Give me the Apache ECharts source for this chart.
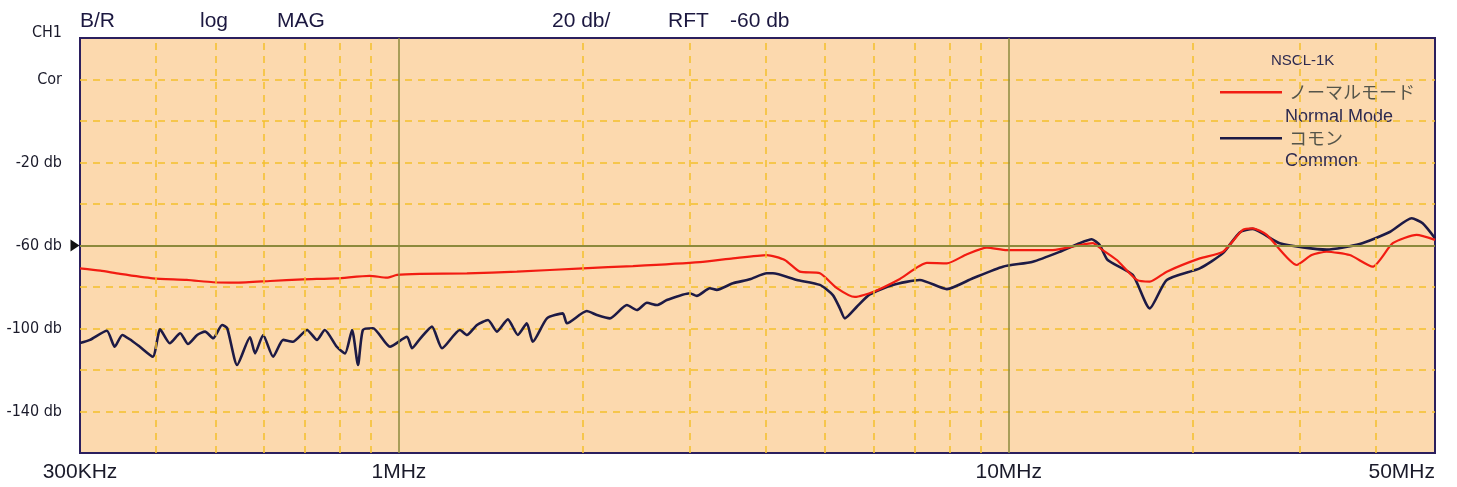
<!DOCTYPE html>
<html>
<head>
<meta charset="utf-8">
<script src="https://cdn.jsdelivr.net/npm/echarts@6/dist/echarts.min.js"></script>
<style>
html,body{margin:0;padding:0;background:#fff;}
#chart{width:1457px;height:487px;}
</style>
</head>
<body>
<div id="chart"></div>
<script>
// ---- data (frequency in MHz, level in dB) ----
const normalFreqMHz = [0.300,0.324,0.349,0.395,0.449,0.496,0.543,0.615,0.696,0.791,0.896,0.956,0.993,1.083,1.293,1.561,2.003,2.420,3.115,3.530,4.011,4.293,4.544,4.902,5.227,5.594,5.986,6.630,7.342,7.918,8.539,9.208,9.930,11.81,13.07,13.73,14.26,15.04,16.22,17.03,18.16,20.57,22.43,24.20,25.12,26.49,29.66,31.38,33.21,36.24,39.52,42.63,46.65,50.0];
const normalDb = [-71.0,-72.1,-73.7,-75.8,-76.6,-77.7,-77.9,-77.1,-76.3,-75.8,-74.6,-75.5,-74.2,-73.7,-73.4,-72.6,-71.0,-69.9,-68.0,-66.2,-64.6,-67.0,-72.6,-73.4,-80.5,-84.8,-82.4,-76.1,-68.4,-68.6,-64.2,-61.0,-62.2,-62.2,-59.8,-58.9,-62.2,-67.0,-76.6,-77.4,-72.6,-66.2,-63.1,-52.5,-51.7,-54.9,-69.4,-64.6,-63.0,-64.6,-70.2,-58.9,-54.9,-57.3];

const commonFreqMHz = [0.300,0.3115,0.332,0.342,0.352,0.362,0.376,0.395,0.406,0.421,0.438,0.451,0.467,0.481,0.496,0.513,0.523,0.543,0.570,0.581,0.599,0.622,0.646,0.670,0.707,0.734,0.756,0.791,0.816,0.838,0.857,0.873,0.907,0.967,1.031,1.051,1.083,1.133,1.177,1.259,1.293,1.343,1.400,1.448,1.509,1.567,1.621,1.658,1.749,1.857,1.886,2.033,2.112,2.218,2.365,2.456,2.551,2.649,2.751,3.000,3.080,3.235,3.321,3.530,3.763,4.011,4.104,4.493,4.902,5.148,5.286,5.386,5.635,5.919,6.457,7.150,7.918,8.734,9.781,10.95,12.13,13.07,13.68,14.10,14.53,15.97,17.03,18.16,20.57,22.43,23.92,25.12,27.82,33.21,37.62,42.14,45.79,47.72,50.0];
const commonDb = [-107.0,-105.5,-101.1,-108.8,-103.1,-105.2,-108.8,-113.6,-100.4,-107.1,-102.3,-107.5,-103.1,-101.5,-104.7,-98.3,-99.9,-117.6,-104.2,-112.0,-103.1,-113.6,-105.5,-106.4,-100.7,-105.5,-100.7,-108.8,-112.0,-100.7,-117.6,-100.7,-99.9,-108.8,-104.0,-109.5,-105.0,-99.1,-109.5,-100.7,-103.1,-98.3,-95.9,-101.5,-95.6,-103.1,-97.5,-106.4,-95.1,-92.7,-97.5,-91.6,-93.5,-95.1,-88.7,-91.1,-87.6,-88.7,-86.3,-83.0,-84.3,-80.6,-81.4,-78.2,-76.3,-73.4,-73.4,-76.6,-79.0,-83.9,-90.3,-95.1,-89.5,-83.6,-79.0,-76.6,-81.0,-75.8,-70.2,-67.8,-63.0,-58.9,-57.0,-59.8,-67.0,-74.2,-90.3,-76.6,-71.0,-63.8,-53.7,-52.0,-58.9,-62.0,-59.3,-53.5,-46.9,-49.3,-56.5];

const seriesNames = ['ノーマルモード', 'コモン'];
const seriesSubNames = ['Normal Mode', 'Common'];
const legendTitle = 'NSCL-1K';

const xTickValues = [0.3, 1, 10, 50];
const xTickLabels = ['300KHz', '1MHz', '10MHz', '50MHz'];
const yTickValues = [40, 20, -20, -60, -100, -140];
const yTickLabels = ['CH1', 'Cor', '-20 db', '-60 db', '-100 db', '-140 db'];
const headerTexts = ['B/R', 'log', 'MAG', '20 db/', 'RFT', '-60 db'];
const refLevelDb = -60;
const majorFreqs = [1, 10];
const minorFreqs = [0.4,0.5,0.6,0.7,0.8,0.9,2,3,4,5,6,7,8,9,20,30,40];

// ---- build ----
function pairs(xs, ys){ return xs.map((x,i)=>[x, ys[i]]); }

const GOLD = '#f3c02c';
const OLIVE = '#8c8a3c';
const NAVY = '#1d1a45';
const RED = '#f21c12';
const narrow = "'Liberation Sans Narrow','DejaVu Sans Condensed','Liberation Sans',Arial,sans-serif";
const sans = "'Liberation Sans',Arial,sans-serif";
const lineIcon = 'path://M0,0 L0,0 M0,8 L62,8 L62,10.5 L0,10.5 Z M62,18 L62,18';

const headerX = [80, 200, 277, 552, 668, 730];
const graphics = headerTexts.map((t,i)=>({
  type:'text', left: headerX[i], top: 11,
  style:{ text:t, fill:'#1c1840', font:'21px ' + sans }
}));
graphics.push({ type:'text', left:1271, top:53, style:{ text:legendTitle, fill:'#2d2a50', font:'15px ' + sans }});
graphics.push({ type:'text', left:1285, top:108, style:{ text:seriesSubNames[0], fill:'#2d2a50', font:'18px ' + sans }});
graphics.push({ type:'text', left:1285, top:152, style:{ text:seriesSubNames[1], fill:'#2d2a50', font:'18px ' + sans }});

const chart = echarts.init(document.getElementById('chart'), null, {renderer:'canvas'});
chart.setOption({
  animation:false,
  backgroundColor:'#ffffff',
  grid:{ left:80, right:22, top:38, bottom:34, show:true, backgroundColor:'#fcd9ae',
         borderColor:'#2b1f5e', borderWidth:2, containLabel:false, outerBoundsMode:'none' },
  xAxis:{
    type:'log', logBase:10, min:0.3, max:50,
    axisLine:{show:false}, axisTick:{show:false},
    splitLine:{show:false},
    axisLabel:{
      fontSize:21, color:'#1a1a2a', fontFamily:sans, margin:9,
      showMinLabel:true, showMaxLabel:true, alignMaxLabel:'right',
      formatter:function(v){
        let best=0, bd=1e9;
        xTickValues.forEach((t,i)=>{ const d=Math.abs(Math.log10(v/t)); if(d<bd){bd=d;best=i;} });
        return bd<0.01 ? xTickLabels[best] : '';
      }
    }
  },
  yAxis:{
    type:'value', min:-160, max:40, interval:20,
    axisLine:{show:false}, axisTick:{show:false},
    splitLine:{show:true, showMinLine:false, showMaxLine:false, lineStyle:{color:GOLD, width:1.5, type:[7,6]}},
    axisLabel:{
      fontSize:16, color:'#1a1a2a', fontFamily:narrow, margin:18,
      formatter:function(v){
        const i = yTickValues.indexOf(Math.round(v));
        if(i<0) return '';
        if(i===0) return '{top|' + yTickLabels[i] + '}';
        return yTickLabels[i];
      },
      rich:{ top:{ fontSize:16, fontFamily:narrow, color:'#1a1a2a', padding:[0,0,10,0] } }
    }
  },
  legend:{
    data:[
      {name:seriesNames[0], icon:lineIcon, itemStyle:{color:RED}},
      {name:seriesNames[1], icon:lineIcon, itemStyle:{color:NAVY}}
    ],
    orient:'vertical', left:1215, top:78,
    itemWidth:62, itemHeight:18, itemGap:28,
    textStyle:{ fontSize:18, color:'#55554a', fontFamily:"'Noto Sans CJK JP',sans-serif", padding:[0,0,0,2] }
  },
  graphic: graphics,
  series:[
    {
      name:'grid', type:'line', data:[], silent:true, z:1,
      markLine:{
        silent:true, symbol:'none', label:{show:false}, animation:false,
        data: minorFreqs.map(f=>({xAxis:f, lineStyle:{color:GOLD, width:1.5, type:[7,6]}}))
          .concat(majorFreqs.map(f=>({xAxis:f, lineStyle:{color:OLIVE, width:1.5, type:'solid'}})))
          .concat([{yAxis:refLevelDb, lineStyle:{color:OLIVE, width:1.8, type:'solid'}}])
      },
      markPoint:{
        silent:true, symbol:'path://M0,0 L10,6 L0,12 Z', symbolSize:[9,12], symbolOffset:[-5,0],
        itemStyle:{color:'#111'}, label:{show:false},
        data:[{coord:[0.3, refLevelDb]}]
      }
    },
    {
      name:seriesNames[1], type:'line', data:pairs(commonFreqMHz, commonDb),
      symbol:'none', smooth:0.2, z:3,
      lineStyle:{color:NAVY, width:2.6}, itemStyle:{color:NAVY}
    },
    {
      name:seriesNames[0], type:'line', data:pairs(normalFreqMHz, normalDb),
      symbol:'none', smooth:0.2, z:4,
      lineStyle:{color:RED, width:2.2}, itemStyle:{color:RED}
    }
  ]
});
</script>
</body>
</html>
